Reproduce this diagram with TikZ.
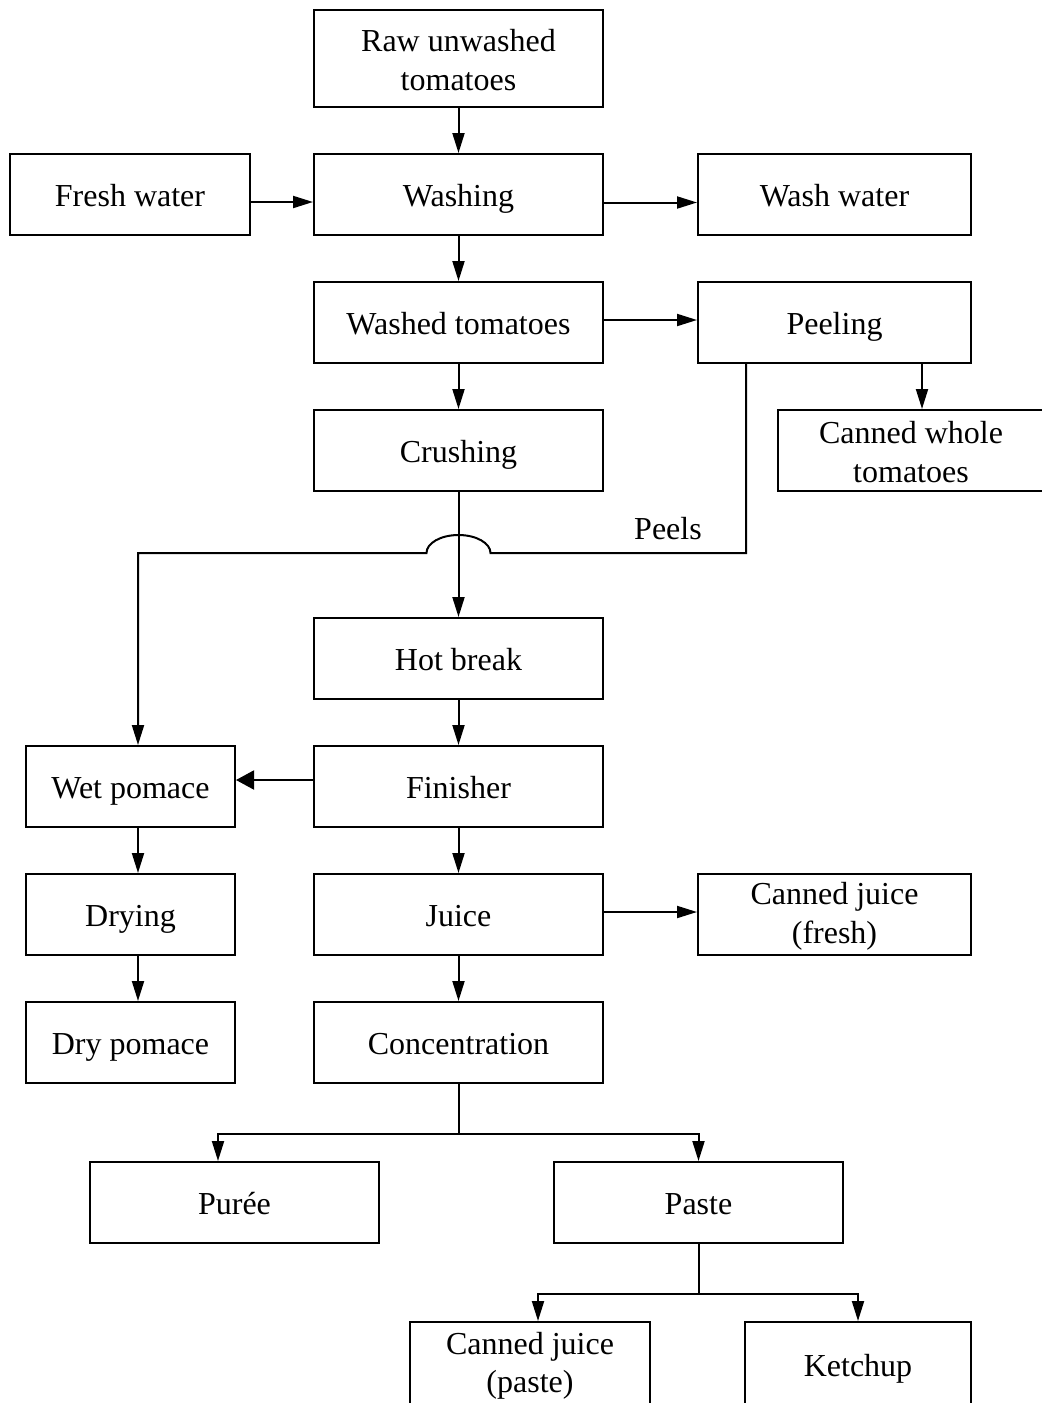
\documentclass[tikz,border=0pt]{standalone}
\usepackage{fontspec}
\setmainfont{Liberation Serif}
\usetikzlibrary{arrows.meta}

% two lines of a box, held at the same height in every box
\newcommand\pair[2]{\rule{0pt}{13pt}#1\\#2\rule[-0.5pt]{0pt}{0pt}}

\begin{document}
\begin{tikzpicture}[x=0.5pt,y=-0.5pt,
    stage/.style={draw,line width=1pt,align=center,inner sep=0pt,
      minimum width=144.5pt,minimum height=40.5pt,
      text height=12.5pt,text depth=0.5pt,
      font=\fontsize{16}{19.25}\selectfont},
    stagetwo/.style={stage,text height=,text depth=},
    flow/.style={line width=1pt,-{Triangle[length=10pt,width=6pt]}},
    bigflow/.style={line width=1pt,-{Triangle[length=9pt,width=9.5pt]}},
    feed/.style={line width=1pt}]

  \useasboundingbox (0,0) rectangle (1041,1403);

  % --- the main line: raw tomatoes down to concentration ---
  \node[stagetwo,minimum height=48.5pt] (raw) at (458.5,58.5) {\pair{Raw unwashed}{tomatoes}};
  \node[stage] (wash)    at (458.5,194.5)  {Washing};
  \node[stage] (washed)  at (458.5,322.5)  {Washed tomatoes};
  \node[stage] (crush)   at (458.5,450.5)  {Crushing};
  \node[stage] (hot)     at (458.5,658.5)  {Hot break};
  \node[stage] (fin)     at (458.5,786.5)  {Finisher};
  \node[stage] (juice)   at (458.5,914.5)  {Juice};
  \node[stage] (conc)    at (458.5,1042.5) {Concentration};

  % --- water in and out ---
  \node[stage,minimum width=120pt]   (fresh)     at (130,194.5)   {Fresh water};
  \node[stage,minimum width=136.5pt] (washwater) at (834.5,194.5) {Wash water};

  % --- peeling branch ---
  \node[stage,minimum width=136.5pt] (peel)  at (834.5,322.5) {Peeling};
  \node[stagetwo,minimum width=133pt] (whole) at (911,450.5)  {\pair{Canned whole}{tomatoes}};
  \node[font=\fontsize{16}{19.25}\selectfont] (peelslbl) at (668,529) {Peels};

  % --- pomace column ---
  \node[stage,minimum width=104.5pt] (wet)    at (130.5,786.5)  {Wet pomace};
  \node[stage,minimum width=104.5pt] (dry)    at (130.5,914.5)  {Drying};
  \node[stage,minimum width=104.5pt] (drypom) at (130.5,1042.5) {Dry pomace};

  % --- products ---
  \node[stagetwo,minimum width=136.5pt] (cjf) at (834.5,914.5) {\pair{Canned juice}{(fresh)}};
  \node[stage]                       (puree)   at (234.5,1202.5) {Purée};
  \node[stage]                       (paste)   at (698.5,1202.5) {Paste};
  \node[stagetwo,minimum width=120pt,minimum height=42pt] (cjp) at (530,1364) {\pair{Canned juice}{(paste)}};
  \node[stage,minimum width=113pt,minimum height=42pt]   (ketchup) at (858,1364) {Ketchup};

  % --- straight arrows ---
  \draw[flow] (raw) -- (wash);
  \draw[flow] ([yshift=-3.75pt]fresh.east) -- ([yshift=-3.75pt]wash.west);
  \draw[flow] ([yshift=-4pt]wash.east) -- ([yshift=-4pt]washwater.west);
  \draw[flow] (wash) -- (washed);
  \draw[flow] ([yshift=1.25pt]washed.east) -- ([yshift=1.25pt]peel.west);
  \draw[flow] (washed) -- (crush);
  \draw[flow] ([xshift=5.5pt]whole.north |- peel.south) -- ([xshift=5.5pt]whole.north);
  \draw[flow] (crush) -- (hot);
  \draw[flow] (hot) -- (fin);
  \draw[bigflow] ([yshift=3.25pt]fin.west) -- ([yshift=3.25pt]wet.east);
  \draw[flow] (fin) -- (juice);
  \draw[flow] (juice) -- (conc);
  \draw[flow] ([yshift=1.25pt]juice.east) -- ([yshift=1.25pt]cjf.west);
  \draw[flow] ([xshift=3.75pt]wet.south) -- ([xshift=3.75pt]dry.north);
  \draw[flow] ([xshift=3.75pt]dry.south) -- ([xshift=3.75pt]drypom.north);

  % --- peels back to the wet pomace, hopping over the crushing line ---
  \coordinate (peelsdrop) at (746,553);
  \coordinate (hop) at (458.5,553);
  \draw[flow] (peel.south -| peelsdrop) -- (peelsdrop)
    -- ([xshift=16pt]hop) arc[start angle=0,end angle=180,x radius=16pt,y radius=9pt]
    -- ([xshift=3.75pt]wet.north |- peelsdrop) -- ([xshift=3.75pt]wet.north);

  % --- splits below concentration and paste ---
  \coordinate (concsplit) at (458.5,1134);
  \draw[feed] (conc) -- (concsplit);
  \draw[flow] (concsplit) -| ([xshift=-8.25pt]puree.north);
  \draw[flow] (concsplit) -| (paste.north);

  \coordinate (pastesplit) at (698.5,1294);
  \draw[feed] (paste) -- (pastesplit);
  \draw[flow] (pastesplit) -| ([xshift=4pt]cjp.north);
  \draw[flow] (pastesplit) -| (ketchup.north);
\end{tikzpicture}
\end{document}
